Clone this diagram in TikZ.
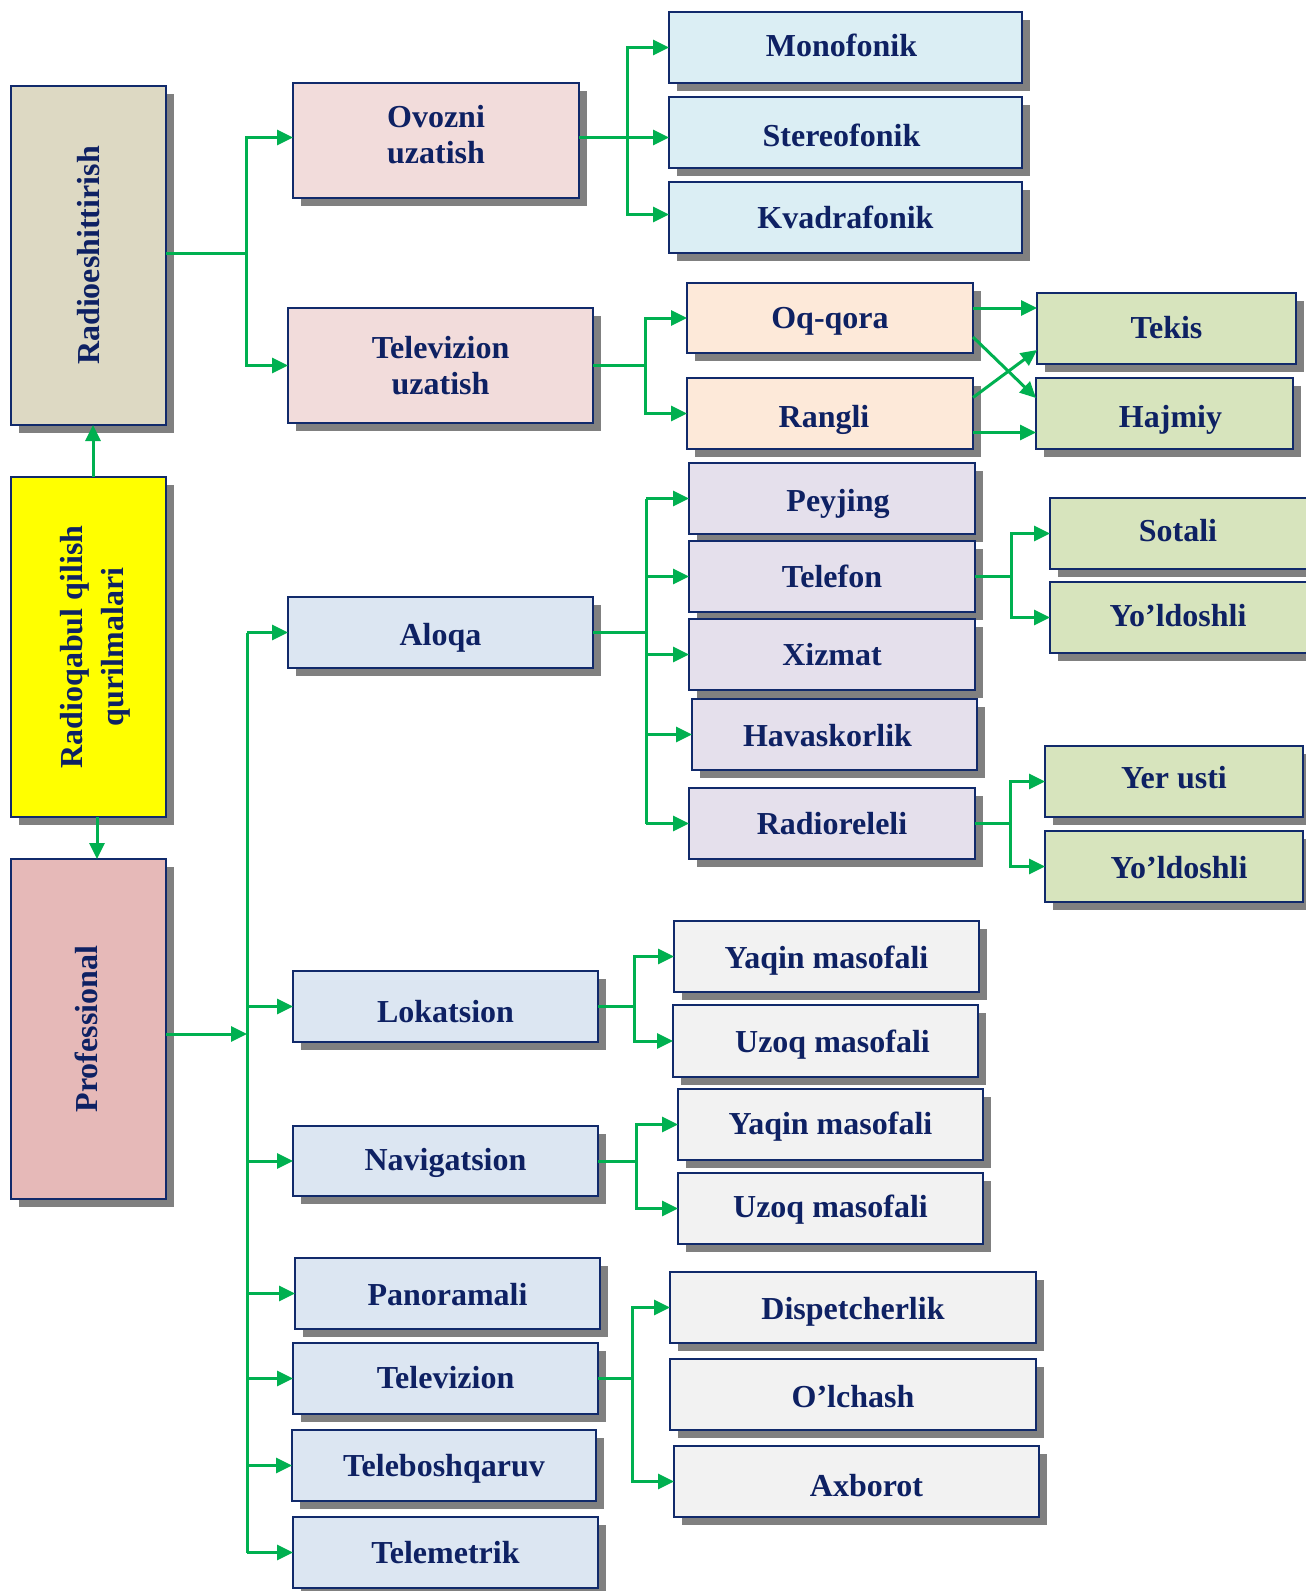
\documentclass[tikz,border=0pt]{standalone}
\usepackage{fontspec}
\setmainfont{Liberation Serif}
\usepackage{graphicx}
\usetikzlibrary{arrows.meta,shadows}

\definecolor{ink}{HTML}{0E2163}
\definecolor{edgeblue}{HTML}{112A6B}
\definecolor{cGreen}{HTML}{00B050}
\definecolor{shade}{HTML}{808080}
\definecolor{cTan}{HTML}{DDD9C3}
\definecolor{cYellow}{HTML}{FFFF00}
\definecolor{cRose}{HTML}{E6B9B8}
\definecolor{cPink}{HTML}{F2DCDB}
\definecolor{cSky}{HTML}{DBEEF4}
\definecolor{cPeach}{HTML}{FDE9D9}
\definecolor{cOlive}{HTML}{D7E4BD}
\definecolor{cLilac}{HTML}{E5E0EC}
\definecolor{cSteel}{HTML}{DCE6F2}
\definecolor{cGrey}{HTML}{F2F2F2}

\tikzset{
  box/.style={rectangle, draw=edgeblue, line width=2pt, inner sep=0pt, outer sep=0pt,
    text=ink, align=center, font=\fontsize{32}{36}\selectfont\bfseries,
    drop shadow={shadow xshift=8pt, shadow yshift=-8pt, fill=shade, opacity=1}},
  % single line label: baseline sits #1/2 below the box centre
  oneline/.style={text height=#1, text depth=0pt},
  wire/.style={draw=cGreen, line width=3pt},
  arr/.style={wire, -{Triangle[length=16pt,width=15pt]}},
}

% box from its outer corners (x1,y1)-(x2,y2), y measured downwards
\newcommand\placebox[7]{%
  \pgfmathsetmacro\pbw{#4-#2}%
  \pgfmathsetmacro\pbh{#5-#3}%
  \node[box, #6, minimum width=\pbw pt, minimum height=\pbh pt]
    (#1) at ({(#2+#4)/2},{-(#3+#5)/2}) {#7};}

\begin{document}
\begin{tikzpicture}[x=1pt,y=1pt]
\path[use as bounding box, fill=white] (0,0) rectangle (1306,-1591);

% left column
\placebox{R1}{11}{86}{166}{425}{fill=cTan}{\rotatebox{90}{Radioeshittirish}}
\placebox{RQ}{11}{477}{166}{817}{fill=cYellow}{\hspace*{14pt}\rotatebox{90}{\begin{tabular}{@{}c@{}}Radioqabul qilish\\[5pt]qurilmalari\end{tabular}}}
\placebox{PR}{11}{859}{166}{1199}{fill=cRose}{\hspace*{-4pt}\rotatebox{90}{Professional}}

% broadcasting branch
\placebox{OV}{293}{83}{579}{198}{fill=cPink,text depth=12pt}{Ovozni\\uzatish}
\placebox{TU}{288}{308}{593}{423}{fill=cPink}{Televizion\\uzatish}
\placebox{MO}{669}{12}{1022}{83}{fill=cSky,oneline=17pt}{\hspace*{-8pt}Monofonik}
\placebox{ST}{669}{97}{1022}{168}{fill=cSky,oneline=28pt}{\hspace*{-8pt}Stereofonik}
\placebox{KV}{669}{182}{1022}{253}{fill=cSky,oneline=21pt}{Kvadrafonik}
\placebox{OQ}{687}{283}{973}{353}{fill=cPeach,oneline=20pt}{Oq-qora}
\placebox{RA}{687}{378}{973}{449}{fill=cPeach,oneline=27pt}{\hspace*{-12pt}Rangli}
\placebox{TE}{1037}{293}{1296}{364}{fill=cOlive,oneline=19pt}{Tekis}
\placebox{HA}{1036}{378}{1293}{449}{fill=cOlive,oneline=27pt}{\hspace*{12pt}Hajmiy}

% professional branch
\placebox{AL}{288}{597}{593}{668}{fill=cSteel,oneline=25pt}{Aloqa}
\placebox{PE}{689}{463}{975}{534}{fill=cLilac,oneline=25pt}{\hspace*{12pt}Peyjing}
\placebox{TF}{689}{541}{975}{612}{fill=cLilac,oneline=22pt}{Telefon}
\placebox{XI}{689}{619}{975}{690}{fill=cLilac,oneline=21pt}{Xizmat}
\placebox{HV}{692}{699}{977}{770}{fill=cLilac,oneline=23pt}{\hspace*{-14pt}Havaskorlik}
\placebox{RR}{689}{788}{975}{859}{fill=cLilac,oneline=21pt}{Radioreleli}
\placebox{SO}{1050}{498}{1320}{569}{fill=cOlive,oneline=16pt}{\hspace*{-14pt}Sotali}
\placebox{YA}{1050}{582}{1320}{653}{fill=cOlive,oneline=18pt}{\hspace*{-14pt}Yo’ldoshli}
\placebox{YU}{1045}{746}{1303}{817}{fill=cOlive,oneline=13pt}{Yer usti}
\placebox{YB}{1045}{831}{1303}{902}{fill=cOlive,oneline=23pt}{\hspace*{10pt}Yo’ldoshli}

\placebox{LO}{293}{971}{598}{1042}{fill=cSteel,oneline=31pt}{Lokatsion}
\placebox{NA}{293}{1126}{598}{1196}{fill=cSteel,oneline=18pt}{Navigatsion}
\placebox{QA}{674}{921}{979}{992}{fill=cGrey,oneline=23pt}{Yaqin masofali}
\placebox{UA}{673}{1005}{978}{1077}{fill=cGrey,oneline=22pt}{\hspace*{14pt}Uzoq masofali}
\placebox{QB}{678}{1089}{983}{1160}{fill=cGrey,oneline=19pt}{Yaqin masofali}
\placebox{UB}{678}{1173}{983}{1244}{fill=cGrey,oneline=17pt}{Uzoq masofali}

\placebox{PA}{295}{1258}{600}{1329}{fill=cSteel,oneline=23pt}{Panoramali}
\placebox{TV}{293}{1343}{598}{1414}{fill=cSteel,oneline=19pt}{Televizion}
\placebox{TB}{292}{1430}{596}{1501}{fill=cSteel,oneline=21pt}{Teleboshqaruv}
\placebox{TM}{293}{1517}{598}{1588}{fill=cSteel,oneline=21pt}{Telemetrik}
\placebox{DI}{670}{1272}{1036}{1343}{fill=cGrey,oneline=23pt}{Dispetcherlik}
\placebox{OL}{670}{1359}{1036}{1430}{fill=cGrey,oneline=25pt}{O’lchash}
\placebox{AX}{674}{1446}{1039}{1517}{fill=cGrey,oneline=29pt}{\hspace*{20pt}Axborot}

% junction columns
\coordinate (jA) at (246,0);
\coordinate (jB) at (627,0);
\coordinate (jC) at (645,0);
\coordinate (jD) at (646,0);
\coordinate (jE) at (1011,0);
\coordinate (jF) at (1010,0);
\coordinate (jG) at (634,0);
\coordinate (jH) at (636,0);
\coordinate (jI) at (632,0);
\coordinate (jT) at (247,0);

% root links
\draw[arr] ([xshift=4.5pt]RQ.north) -- ([xshift=4.5pt]R1.south);
\draw[arr] ([xshift=8.5pt]RQ.south) -- ([xshift=8.5pt]PR.north);

% Radioeshittirish
\draw[wire] ([yshift=2pt]R1.east) -- ([yshift=2pt]R1.east -| jA);
\draw[arr] ([yshift=2pt]R1.east -| jA) |- ([yshift=3pt]OV.west);
\draw[arr] ([yshift=2pt]R1.east -| jA) |- (TU.west);

% Ovozni uzatish
\draw[arr] ([yshift=3pt]OV.east) -- ([yshift=3pt]OV.east -| ST.west);
\draw[arr] ([yshift=3pt]OV.east -| jB) |- (MO.west);
\draw[arr] ([yshift=3pt]OV.east -| jB) |- ([yshift=3pt]KV.west);

% Televizion uzatish
\draw[wire] (TU.east) -- (TU.east -| jC);
\draw[arr] (TU.east -| jC) |- (OQ.west);
\draw[arr] (TU.east -| jC) |- (RA.west);
\draw[arr] ([yshift=10pt]OQ.east) -- ([yshift=10pt]OQ.east -| TE.west);
\draw[arr] ([yshift=-19pt]RA.east) -- ([yshift=-19pt]RA.east -| HA.west);
\draw[arr] ([yshift=-19pt]OQ.east) -- ([yshift=-20pt]HA.north west);
\draw[arr] ([yshift=16pt]RA.east) -- ([yshift=14pt]TE.south west);

% Professional trunk
\draw[arr] ([yshift=-5pt]PR.east) -- ([yshift=-5pt]PR.east -| jT);
\draw[wire] (jT |- AL.west) -- (jT |- TM.west);
\foreach \n in {AL,LO,NA,PA,TV,TB,TM}
  \draw[arr] (jT |- \n.west) -- (\n.west);

% Aloqa
\draw[wire] (AL.east) -- (AL.east -| jD);
\draw[wire] (jD |- PE.west) -- (jD |- RR.west);
\foreach \n in {PE,TF,XI,HV,RR}
  \draw[arr] (jD |- \n.west) -- (\n.west);

% Telefon
\draw[wire] (TF.east) -- (TF.east -| jE);
\draw[arr] (TF.east -| jE) |- (SO.west);
\draw[arr] (TF.east -| jE) |- (YA.west);

% Radioreleli
\draw[wire] (RR.east) -- (RR.east -| jF);
\draw[arr] (RR.east -| jF) |- (YU.west);
\draw[arr] (RR.east -| jF) |- (YB.west);

% Lokatsion
\draw[wire] (LO.east) -- (LO.east -| jG);
\draw[arr] (LO.east -| jG) |- (QA.west);
\draw[arr] (LO.east -| jG) |- (UA.west);

% Navigatsion
\draw[wire] (NA.east) -- (NA.east -| jH);
\draw[arr] (NA.east -| jH) |- (QB.west);
\draw[arr] (NA.east -| jH) |- (UB.west);

% Televizion
\draw[wire] (TV.east) -- (TV.east -| jI);
\draw[arr] (TV.east -| jI) |- (DI.west);
\draw[arr] (TV.east -| jI) |- (AX.west);
\end{tikzpicture}
\end{document}
